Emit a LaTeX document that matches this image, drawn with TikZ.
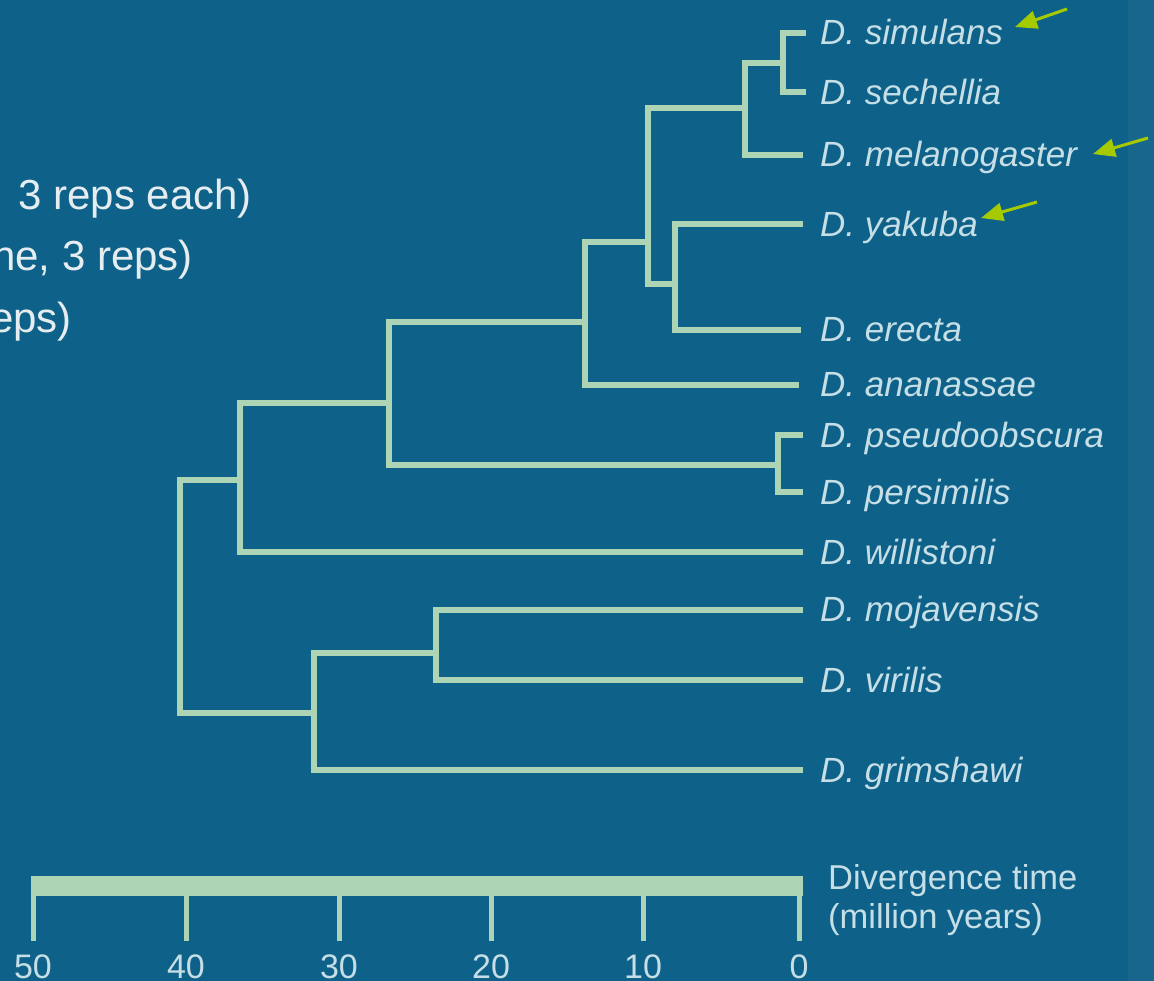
\documentclass[tikz,border=0pt]{standalone}
\usepackage{fontspec}
\setmainfont{Liberation Sans}
\usetikzlibrary{arrows.meta}
\definecolor{bg}{HTML}{0E6289}
\definecolor{strip}{HTML}{19668C}
\definecolor{tree}{HTML}{ADD5B5}
\definecolor{lab}{HTML}{C6DEE6}
\definecolor{side}{HTML}{E6EDF0}
\definecolor{pointer}{HTML}{A6CA00}
\begin{document}
\begin{tikzpicture}[x=1pt,y=-1pt,
  branch/.style={draw=tree, line width=5.5pt, line cap=rect, line join=miter},
  sp/.style={anchor=base west, text=lab, inner sep=0pt, font=\fontsize{35}{40}\selectfont\itshape},
  sidetext/.style={anchor=base east, text=side, inner sep=0pt, font=\fontsize{42}{50}\selectfont},
  axislab/.style={anchor=base, text=lab, inner sep=0pt, font=\fontsize{34}{40}\selectfont},
  axtitle/.style={anchor=base west, text=lab, inner sep=0pt, font=\fontsize{34.5}{40}\selectfont},
  pointerarrow/.style={draw=pointer, line width=3pt, -{Triangle[length=22pt,width=18pt]}}]
\useasboundingbox (0,0) rectangle (1154,981);
\fill[bg] (0,0) rectangle (1154,981);
\fill[strip] (1128,0) rectangle (1154,981);
\clip (0,0) rectangle (1154,981);

% side text (cut off at the left edge)
\node[sidetext] (s1) at (252,210) {3 reps each)};
\node[sidetext] (s2) at (193,271) {ne, 3 reps)};
\node[sidetext] (s3) at (72,333) {eps)};

% leaves
\coordinate (sim) at (803,33);
\coordinate (sec) at (803,92);
\coordinate (mel) at (800,155);
\coordinate (yak) at (800,224);
\coordinate (ere) at (798,330);
\coordinate (ana) at (796,385);
\coordinate (pse) at (800,435);
\coordinate (per) at (800,492);
\coordinate (wil) at (800,552);
\coordinate (moj) at (800,610);
\coordinate (vir) at (800,680);
\coordinate (gri) at (800,770);

\node[sp] (Lsim) at (820,45) {D. simulans};
\node[sp] (Lsec) at (820,105) {D. sechellia};
\node[sp] (Lmel) at (820,167) {D. melanogaster};
\node[sp] (Lyak) at (820,237) {D. yakuba};
\node[sp] (Lere) at (820,342) {D. erecta};
\node[sp] (Lana) at (820,397) {D. ananassae};
\node[sp] (Lpse) at (820,447) {D. pseudoobscura};
\node[sp] (Lper) at (820,504) {D. persimilis};
\node[sp] (Lwil) at (820,564) {D. willistoni};
\node[sp] (Lmoj) at (820,621) {D. mojavensis};
\node[sp] (Lvir) at (820,692) {D. virilis};
\node[sp] (Lgri) at (820,782) {D. grimshawi};

% internal nodes
\coordinate (nss) at (783,63);
\coordinate (nsm) at (745,108);
\coordinate (nye) at (675,284);
\coordinate (nmg) at (648,242);
\coordinate (nan) at (585,322);
\coordinate (npp) at (778,465);
\coordinate (nso) at (389,403);
\coordinate (nwi) at (240,480);
\coordinate (nmv) at (436,653);
\coordinate (ngr) at (314,713);
\coordinate (nrt) at (180,596);

\draw[branch] (nss) |- (sim);
\draw[branch] (nss) |- (sec);
\draw[branch] (nsm) |- (nss);
\draw[branch] (nsm) |- (mel);
\draw[branch] (nye) |- (yak);
\draw[branch] (nye) |- (ere);
\draw[branch] (nmg) |- (nsm);
\draw[branch] (nmg) |- (nye);
\draw[branch] (nan) |- (nmg);
\draw[branch] (nan) |- (ana);
\draw[branch] (npp) |- (pse);
\draw[branch] (npp) |- (per);
\draw[branch] (nso) |- (nan);
\draw[branch] (nso) |- (npp);
\draw[branch] (nwi) |- (nso);
\draw[branch] (nwi) |- (wil);
\draw[branch] (nmv) |- (moj);
\draw[branch] (nmv) |- (vir);
\draw[branch] (ngr) |- (nmv);
\draw[branch] (ngr) |- (gri);
\draw[branch] (nrt) |- (nwi);
\draw[branch] (nrt) |- (ngr);

% pointer arrows
\coordinate (a1t) at (1067,9);   \coordinate (a1h) at (1015,27);
\coordinate (a2t) at (1148,138); \coordinate (a2h) at (1093,154);
\coordinate (a3t) at (1037,202); \coordinate (a3h) at (981,218);
\draw[pointerarrow] (a1t) -- (a1h);
\draw[pointerarrow] (a2t) -- (a2h);
\draw[pointerarrow] (a3t) -- (a3h);

% time axis
\fill[tree] (31,876) rectangle (803,896);
\foreach \x/\v in {33/50,186/40,339/30,491/20,643/10,799/0}{
  \draw[draw=tree, line width=5pt] (\x,894) -- (\x,941);
  \node[axislab] (t\v) at (\x,978) {\v};
}
\node[axtitle] (axt1) at (828,889) {Divergence time};
\node[axtitle] (axt2) at (828,928) {(million years)};
\end{tikzpicture}
\end{document}
